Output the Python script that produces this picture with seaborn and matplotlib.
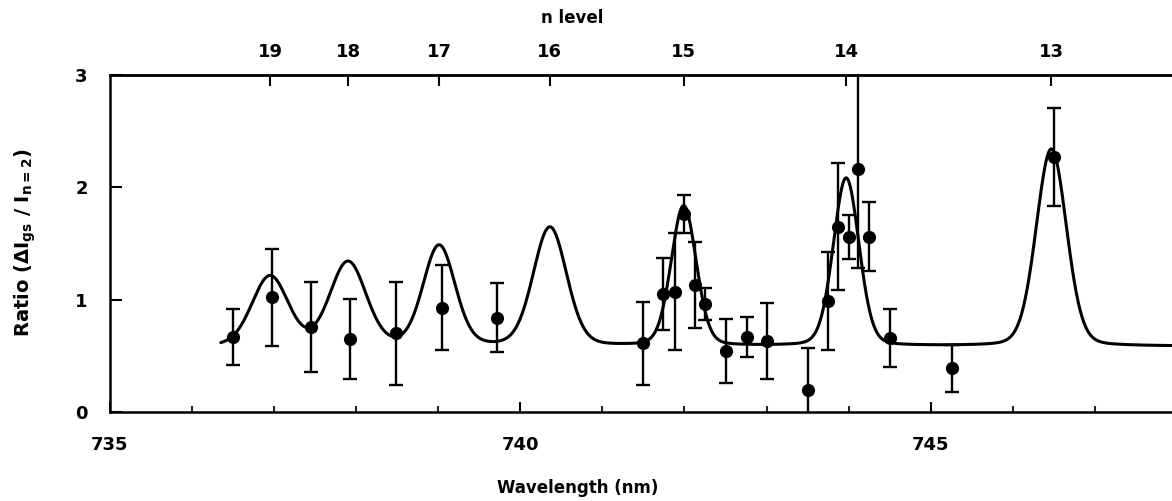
import numpy as np
import pandas as pd
import seaborn as sns
import matplotlib
matplotlib.use('agg')
import matplotlib.pyplot as plt

sns.set_theme(style='ticks')
plt.rcParams['font.family'] = ['DejaVu Sans']
plt.rcParams['font.weight'] = 'bold'
plt.rcParams['text.color'] = 'black'
plt.rcParams['mathtext.fontset'] = 'dejavusans'
plt.rcParams['mathtext.default'] = 'bf'

# measured ratios with error bars
wavelength = [736.50, 736.97, 737.45, 737.92, 738.49, 739.04, 739.72,
              741.50, 741.74, 741.88, 742.00, 742.13, 742.25, 742.50,
              742.76, 743.01, 743.51, 743.75, 743.87, 744.00, 744.12,
              744.25, 744.50, 745.26, 746.50]
ratio = [0.665, 1.02, 0.76, 0.65, 0.70, 0.93, 0.84,
         0.61, 1.05, 1.07, 1.76, 1.13, 0.96, 0.54,
         0.67, 0.63, 0.20, 0.99, 1.65, 1.56, 2.16,
         1.56, 0.66, 0.39, 2.27]
ratio_err = [0.25, 0.43, 0.40, 0.355, 0.46, 0.375, 0.305,
             0.37, 0.32, 0.52, 0.17, 0.38, 0.145, 0.285,
             0.18, 0.34, 0.37, 0.435, 0.565, 0.195, 0.88,
             0.305, 0.255, 0.21, 0.44]

# fitted profile, one peak per n level
n_levels = [19, 18, 17, 16, 15, 14, 13]
peak_centre = [736.95, 737.90, 739.01, 740.36, 741.99, 743.97, 746.47]
peak_height = [0.62, 0.745, 0.89, 1.055, 1.245, 1.495, 1.755]
peak_fwhm = [0.52, 0.52, 0.46, 0.48, 0.36, 0.37, 0.435]
baseline = 0.585
lorentz_frac = 0.15
fit_range = (736.35, 747.94)


def fit_curve(x):
    y = np.full_like(x, baseline)
    for c, h, w in zip(peak_centre, peak_height, peak_fwhm):
        u = (x - c) / (w / 2)
        y += h * (lorentz_frac / (1 + u**2) + (1 - lorentz_frac) * np.exp(-np.log(2) * u**2))
    return y


fig = plt.figure(figsize=(11.72, 5.01), dpi=100)
ax = fig.add_axes([110 / 1172, 1 - 412 / 501, 1 - 110 / 1172, (412 - 75) / 501])

xs = np.linspace(fit_range[0], fit_range[1], 1500)
fit_df = pd.DataFrame({'wavelength': xs, 'ratio': fit_curve(xs)})
sns.lineplot(data=fit_df, x='wavelength', y='ratio', color='black', lw=2.2, ax=ax)

ax.errorbar(wavelength, ratio, yerr=ratio_err, fmt='none', ecolor='black',
            elinewidth=1.7, capsize=5, capthick=1.7, zorder=3)
sns.scatterplot(x=wavelength, y=ratio, color='black', s=90, linewidth=0, zorder=4, ax=ax)

ax.set_xlim(735, fit_range[1])
ax.set_ylim(0, 3)
ax.set_xticks([735, 740, 745])
ax.set_xticks([t for t in range(736, 748) if t % 5], minor=True)
ax.set_yticks([0, 1, 2, 3])
ax.tick_params(axis='x', which='major', direction='in', length=7, width=1.5,
               pad=17, labelsize=13, colors='black')
ax.tick_params(axis='x', which='minor', direction='in', length=4, width=1.5)
ax.tick_params(axis='y', direction='in', length=8.5, width=1.5, pad=16,
               labelsize=13, colors='black')
ax.set_xlabel('')
ax.set_ylabel('')
for side in ['left', 'bottom', 'top']:
    ax.spines[side].set_linewidth(1.8)
    ax.spines[side].set_color('black')
ax.spines['right'].set_visible(False)

# n level scale on top
top = ax.secondary_xaxis('top')
top.set_xticks(peak_centre, labels=[str(n) for n in n_levels])
top.tick_params(direction='in', length=8, width=1.5, pad=10, labelsize=13, colors='black')
top.spines['top'].set_linewidth(1.8)

fig.text(572 / 1172, 1 - 18 / 501, 'n level', ha='center', va='center', fontsize=12, fontweight='bold')
fig.text(578 / 1172, 1 - 488 / 501, 'Wavelength (nm)', ha='center', va='center', fontsize=12, fontweight='bold')
fig.text(25 / 1172, 1 - 243 / 501, r'Ratio ($\Delta$I$_{gs}$ / I$_{n=2}$)', rotation=90,
         ha='center', va='center', fontsize=14, fontweight='bold')

fig.savefig('out.png', dpi=100, facecolor='white')
